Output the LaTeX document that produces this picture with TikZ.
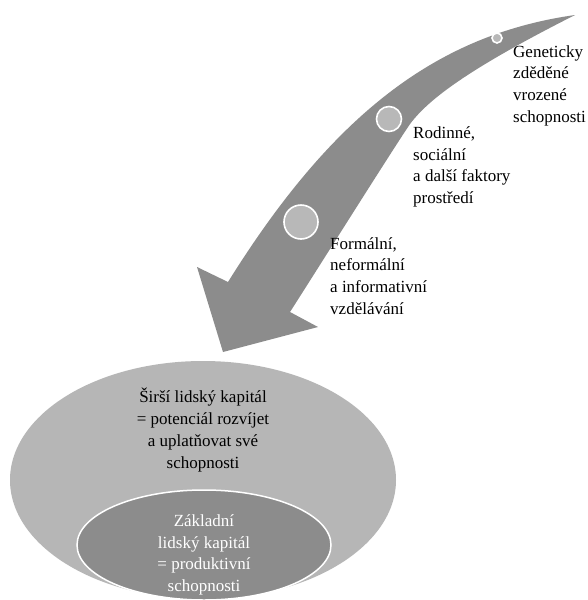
\documentclass[tikz,border=0pt]{standalone}
\usepackage{fontspec}
\setmainfont{Liberation Serif}
\usetikzlibrary{shapes.geometric}
\definecolor{arrowgray}{RGB}{140,140,140}
\definecolor{outergray}{RGB}{182,182,182}
\definecolor{innergray}{RGB}{140,140,140}
\definecolor{dotgray}{RGB}{184,184,184}
\tikzset{
  lbl/.style={anchor=west, align=left, inner sep=0pt, font=\fontsize{17}{21.7}\selectfont},
  ctext/.style={align=center, inner sep=0pt, font=\fontsize{17}{21.7}\selectfont},
  dot/.style={circle, fill=dotgray, draw=white, line width=1.6pt, inner sep=0pt},
}
\begin{document}
\begin{tikzpicture}[x=1pt,y=-1pt]
\useasboundingbox (0,0) rectangle (587,600);
\fill[white] (0,0) rectangle (587,600);
% ellipses
\node[ellipse, fill=outergray, minimum width=386pt, minimum height=238pt, inner sep=0pt] (outer) at (203,480) {};
\node[ellipse, fill=innergray, draw=white, line width=1.5pt, minimum width=254pt, minimum height=110pt, inner sep=0pt] (inner) at (204,545) {};
\node[ctext] (outertext) at (203,430) {Širší lidský kapitál\\= potenciál rozvíjet\\a uplatňovat své\\schopnosti};
\node[ctext, text=white] (innertext) at (204,555) {Základní\\lidský kapitál\\= produktivní\\schopnosti};
% arrow
\coordinate (tail) at (575,15);
\coordinate (mid) at (408,127);
\coordinate (rin) at (290,312);
\coordinate (lin) at (228,282);
\fill[arrowgray] (lin) -- (197,267) -- (223,352) -- (318,327) -- (rin)
  .. controls (311.6,278.4) and (386,160) .. (mid)
  .. controls (427.3,98) and (477.4,64.4) .. (tail)
  .. controls (436.4,34.6) and (332.3,114.7) .. (lin)
  -- cycle;
\node[dot, minimum size=10pt] (d1) at (497,38) {};
\node[dot, minimum size=25pt] (d2) at (389,119) {};
\node[dot, minimum size=34pt] (d3) at (301,222) {};
% labels
\node[lbl] (l1) at (513,85.5) {Geneticky\\zděděné\\vrozené\\schopnosti};
\node[lbl] (l2) at (413,167) {Rodinné,\\sociální\\a další faktory\\prostředí};
\node[lbl] (l3) at (330,276) {Formální,\\neformální\\a informativní\\vzdělávání};
\end{tikzpicture}
\end{document}
